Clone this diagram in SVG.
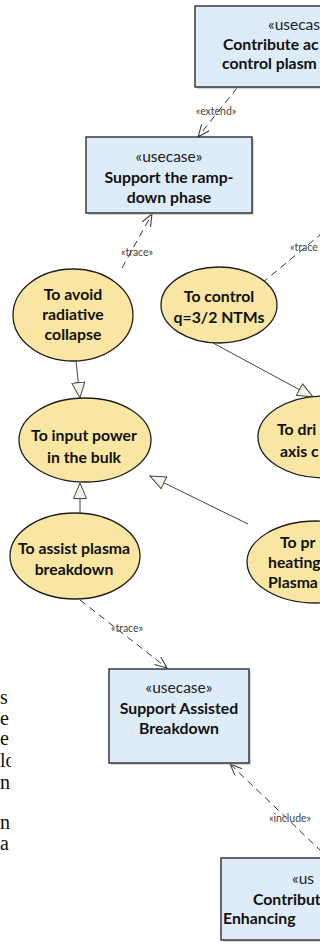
<svg xmlns="http://www.w3.org/2000/svg" width="320" height="948" viewBox="0 0 320 948">
<style>
.bg{fill:#ffffff}
.uc{fill:#deebf8;stroke:#1e1e1e;stroke-width:1.3}
.sh{fill:#b8b8b8;opacity:0.6}
.el{fill:#f9e6a2;stroke:#1e1e1e;stroke-width:1.3}
.st{font-family:Lato,"Liberation Sans",sans-serif;font-size:15.5px;fill:#222}
.nm{font-family:Lato,"Liberation Sans",sans-serif;font-size:15.8px;font-weight:bold;fill:#111}
.mid{text-anchor:middle}
.lb{font-family:Lato,"Liberation Sans",sans-serif;font-size:10.5px;fill:#444;text-anchor:middle}
.dash{fill:none;stroke:#333;stroke-width:1;stroke-dasharray:7,5}
.gen{fill:none;stroke:#444;stroke-width:1}
.doc{font-family:"Liberation Serif",serif;font-size:20px;fill:#111}
</style>
<defs>
<marker id="tri" markerUnits="userSpaceOnUse" markerWidth="18" markerHeight="16" refX="16" refY="7" orient="auto">
<path d="M0.5,0.5 L16,7 L0.5,13.5 Z" fill="#f6f2e8" stroke="#444" stroke-width="1"/>
</marker>
<marker id="open" markerUnits="userSpaceOnUse" markerWidth="14" markerHeight="12" refX="12" refY="5" orient="auto">
<path d="M0,0 L12,5 L0,10" fill="none" stroke="#333" stroke-width="1"/>
</marker>
<clipPath id="docclip"><rect x="0" y="0" width="11" height="948"/></clipPath>
</defs>
<rect class="bg" x="0" y="0" width="320" height="948"/>

<g id="doc-text" clip-path="url(#docclip)">
<text class="doc" x="0" y="704">s</text>
<text class="doc" x="0" y="725">e</text>
<text class="doc" x="0" y="745">e</text>
<text class="doc" x="0" y="767">lo</text>
<text class="doc" x="0" y="789">n</text>
<text class="doc" x="0" y="829">n</text>
<text class="doc" x="0" y="850">a</text>
</g>

<g id="connectors">
<path class="dash" d="M237,88 L198,137" marker-end="url(#open)"/>
<text class="lb" x="216" y="115">«extend»</text>
<path class="dash" d="M122,268 L152,214" marker-end="url(#open)"/>
<text class="lb" x="137" y="256">«trace»</text>
<path class="dash" d="M262,283 L332,225"/>
<text class="lb" x="290" y="251" style="text-anchor:start">«trace</text>
<path class="gen" d="M76,361 L80,398" marker-end="url(#tri)"/>
<path class="gen" d="M213,343 L313,397" marker-end="url(#tri)"/>
<path class="gen" d="M80,513 L80,483" marker-end="url(#tri)"/>
<path class="gen" d="M248,524 L150,476" marker-end="url(#tri)"/>
<path class="dash" d="M80,600 L167,668" marker-end="url(#open)"/>
<text class="lb" x="127" y="632">«trace»</text>
<path class="dash" d="M322,852 L230,764" marker-end="url(#open)"/>
<text class="lb" x="290" y="822">«include»</text>
</g>

<g id="uc-contribute-control">
<rect class="sh" x="197" y="8" width="150" height="81"/>
<rect class="uc" x="195" y="6" width="150" height="81"/>
<text class="st" x="268" y="30">«usecas</text>
<text class="nm" x="223" y="50">Contribute ac</text>
<text class="nm" x="222" y="69">control plasm</text>
</g>

<g id="uc-rampdown">
<rect class="sh" x="88" y="139" width="166" height="76"/>
<rect class="uc" x="86" y="137" width="166" height="76"/>
<text class="st mid" x="169" y="162">«usecase»</text>
<text class="nm mid" x="169" y="183">Support the ramp-</text>
<text class="nm mid" x="169" y="203">down phase</text>
</g>

<g id="goal-avoid">
<ellipse class="el" cx="73" cy="315" rx="60" ry="46"/>
<text class="nm mid" x="73" y="300">To avoid</text>
<text class="nm mid" x="73" y="320">radiative</text>
<text class="nm mid" x="73" y="340">collapse</text>
</g>

<g id="goal-control">
<ellipse class="el" cx="219" cy="305" rx="58" ry="38"/>
<text class="nm mid" x="219" y="302">To control</text>
<text class="nm mid" x="219" y="323">q=3/2 NTMs</text>
</g>

<g id="goal-input">
<ellipse class="el" cx="85" cy="440" rx="66" ry="42"/>
<text class="nm mid" x="84" y="441">To input power</text>
<text class="nm mid" x="84" y="463">in the bulk</text>
</g>

<g id="goal-drive">
<ellipse class="el" cx="324" cy="437" rx="66" ry="41"/>
<text class="nm" x="277" y="435">To dri</text>
<text class="nm" x="280" y="457">axis c</text>
</g>

<g id="goal-assist">
<ellipse class="el" cx="75" cy="556" rx="65" ry="43"/>
<text class="nm mid" x="74" y="554">To assist plasma</text>
<text class="nm mid" x="74" y="575">breakdown</text>
</g>

<g id="goal-provide">
<ellipse class="el" cx="316" cy="562" rx="69" ry="41"/>
<text class="nm" x="280" y="548">To pr</text>
<text class="nm" x="268" y="568">heating</text>
<text class="nm" x="268" y="588">Plasma</text>
</g>

<g id="uc-assisted">
<rect class="sh" x="111" y="671" width="140" height="94"/>
<rect class="uc" x="109" y="669" width="140" height="94"/>
<text class="st mid" x="179" y="693">«usecase»</text>
<text class="nm mid" x="179" y="714">Support Assisted</text>
<text class="nm mid" x="179" y="734">Breakdown</text>
</g>

<g id="uc-contribute-enhancing">
<rect class="sh" x="223" y="860" width="120" height="82"/>
<rect class="uc" x="221" y="858" width="120" height="82"/>
<text class="st" x="292" y="884">«us</text>
<text class="nm" x="253" y="905">Contribut</text>
<text class="nm" x="223" y="924">Enhancing</text>
</g>
</svg>
